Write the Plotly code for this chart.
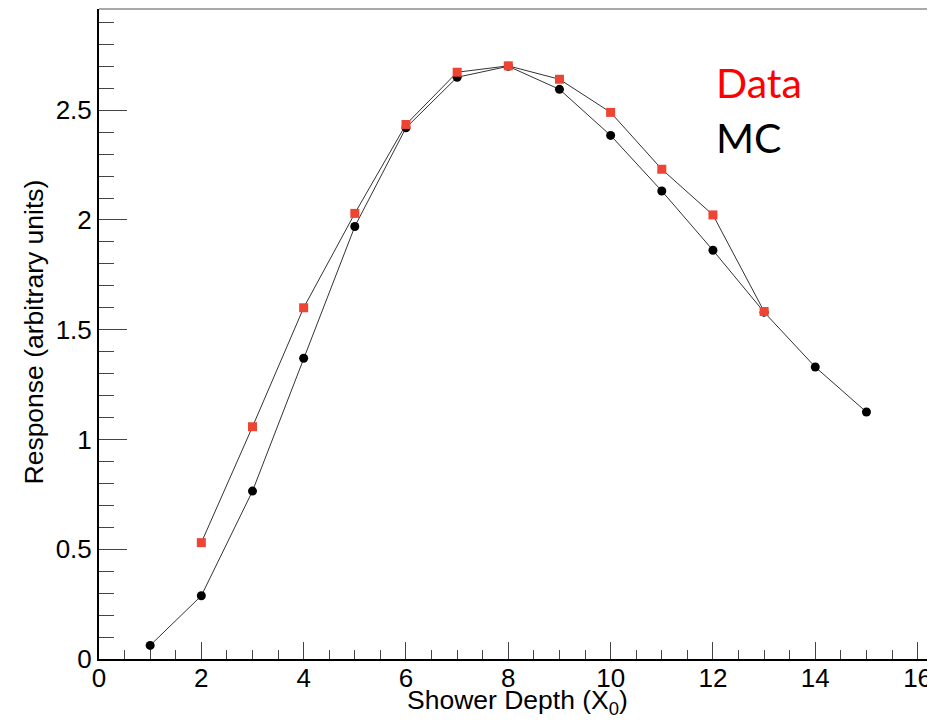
import plotly.graph_objects as go

depth_mc = [1, 2, 3, 4, 5, 6, 7, 8, 9, 10, 11, 12, 13, 14, 15]
resp_mc = [0.062, 0.288, 0.765, 1.37, 1.97, 2.42, 2.65, 2.70, 2.595, 2.385, 2.132, 1.862, 1.58, 1.33, 1.125]

depth_data = [2, 3, 4, 5, 6, 7, 8, 9, 10, 11, 12, 13]
resp_data = [0.53, 1.058, 1.60, 2.03, 2.435, 2.673, 2.702, 2.641, 2.49, 2.231, 2.023, 1.583]

x_tickvals = [0, 2, 4, 6, 8, 10, 12, 14, 16]
y_tickvals = [0, 0.5, 1, 1.5, 2, 2.5]
y_ticktext = ["0", "0.5", "1", "1.5", "2", "2.5"]

FONT = "Liberation Sans, Arial, Helvetica, sans-serif"

fig = go.Figure()
fig.add_trace(go.Scatter(
    x=depth_mc, y=resp_mc, mode="lines+markers",
    line=dict(color="#333333", width=1),
    marker=dict(symbol="circle", size=9, color="black"),
    name="MC", showlegend=False))
fig.add_trace(go.Scatter(
    x=depth_data, y=resp_data, mode="lines+markers",
    line=dict(color="#333333", width=1),
    marker=dict(symbol="square", size=9, color="#ee4433"),
    name="Data", showlegend=False))

fig.update_layout(
    width=927, height=714,
    margin=dict(l=91, r=0, t=1, b=63, autoexpand=False),
    paper_bgcolor="white", plot_bgcolor="white",
    font=dict(family=FONT, color="black", size=26),
    xaxis=dict(
        range=[0, 16.34], showgrid=False, zeroline=False, automargin=False,
        showline=True, linecolor="black", linewidth=2,
        tickvals=x_tickvals, ticks="inside", ticklen=17, tickwidth=1, tickcolor="#444",
        minor=dict(dtick=0.5, ticks="inside", ticklen=9, tickwidth=1, tickcolor="#444"),
        tickfont=dict(size=26, family=FONT), ticklabelstandoff=-5,
    ),
    yaxis=dict(
        range=[0, 2.961], showgrid=False, zeroline=False, automargin=False,
        showline=True, linecolor="black", linewidth=2,
        tickvals=y_tickvals, ticktext=y_ticktext,
        ticks="inside", ticklen=28, tickwidth=1, tickcolor="#444",
        minor=dict(dtick=0.1, ticks="inside", ticklen=15, tickwidth=1, tickcolor="#444"),
        tickfont=dict(size=26, family=FONT),
    ),
    shapes=[dict(type="line", xref="paper", yref="paper", x0=0, x1=1, y0=1, y1=1,
                 line=dict(color="#555", width=1))],
    annotations=[
        dict(text="Shower Depth (X<sub>0</sub>)", xref="paper", yref="paper",
             x=(630 - 99) / 836, y=-43 / 650, xanchor="right", yanchor="middle",
             showarrow=False, font=dict(size=26.5, family=FONT)),
        dict(text="Response (arbitrary units)", xref="paper", yref="paper",
             x=-66 / 836, y=(659 - 178) / 650, xanchor="center", yanchor="top",
             textangle=-90, showarrow=False, font=dict(size=26.5, family=FONT)),
        dict(text="Data", xref="paper", yref="paper",
             x=(714 - 99) / 836, y=(659 - 82) / 650, xanchor="left", yanchor="middle",
             showarrow=False, font=dict(size=41, family="Lato, Open Sans, sans-serif", color="#ff0000")),
        dict(text="MC", xref="paper", yref="paper",
             x=(714 - 99) / 836, y=(659 - 137) / 650, xanchor="left", yanchor="middle",
             showarrow=False, font=dict(size=41, family="Lato, Open Sans, sans-serif", color="black")),
    ],
)

fig.write_html("out.html")
